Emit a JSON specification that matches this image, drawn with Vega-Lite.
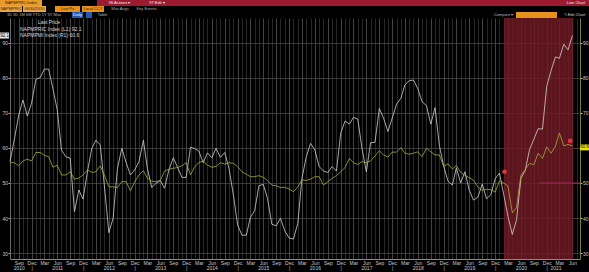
{
  "$schema": "https://vega.github.io/schema/vega-lite/v6.json",
  "background": "#000000",
  "padding": {"left": 0, "top": 0, "right": 0, "bottom": 1},
  "spacing": 0,
  "bounds": "full",
  "config": {
    "view": {"stroke": null},
    "font": "Liberation Sans",
    "axis": {"labelFont": "Liberation Sans", "titleFont": "Liberation Sans"},
    "legend": {"labelFont": "Liberation Sans", "titleFont": "Liberation Sans"},
    "text": {"font": "Liberation Sans", "fontSize": 4, "align": "center", "baseline": "middle"}
  },
  "datasets": {
    "one": [{}],
    "ism": [
      {"d": "2010-07-01", "p": 56.1, "m": 55.8}, {"d": "2010-08-01", "p": 62.5, "m": 55.8}, {"d": "2010-09-01", "p": 69.4, "m": 54.9}, {"d": "2010-10-01", "p": 73.7, "m": 56.3}, {"d": "2010-11-01", "p": 69.1, "m": 56.8}, {"d": "2010-12-01", "p": 72.8, "m": 56.3},
      {"d": "2011-01-01", "p": 79.6, "m": 58.7}, {"d": "2011-02-01", "p": 80.1, "m": 58.7}, {"d": "2011-03-01", "p": 82.5, "m": 57.9}, {"d": "2011-04-01", "p": 82.5, "m": 57.5}, {"d": "2011-05-01", "p": 77.0, "m": 54.5}, {"d": "2011-06-01", "p": 70.9, "m": 55.1}, {"d": "2011-07-01", "p": 59.4, "m": 52.3}, {"d": "2011-08-01", "p": 57.5, "m": 52.3}, {"d": "2011-09-01", "p": 57.1, "m": 53.2}, {"d": "2011-10-01", "p": 41.8, "m": 51.1}, {"d": "2011-11-01", "p": 48.0, "m": 51.4}, {"d": "2011-12-01", "p": 45.4, "m": 52.3},
      {"d": "2012-01-01", "p": 53.2, "m": 53.7}, {"d": "2012-02-01", "p": 59.9, "m": 53.0}, {"d": "2012-03-01", "p": 62.2, "m": 53.2}, {"d": "2012-04-01", "p": 60.9, "m": 54.9}, {"d": "2012-05-01", "p": 48.9, "m": 52.2}, {"d": "2012-06-01", "p": 35.8, "m": 48.9}, {"d": "2012-07-01", "p": 39.9, "m": 48.9}, {"d": "2012-08-01", "p": 54.2, "m": 48.7}, {"d": "2012-09-01", "p": 59.9, "m": 50.4}, {"d": "2012-10-01", "p": 55.9, "m": 50.4}, {"d": "2012-11-01", "p": 52.3, "m": 47.8}, {"d": "2012-12-01", "p": 53.7, "m": 50.3},
      {"d": "2013-01-01", "p": 56.1, "m": 52.3}, {"d": "2013-02-01", "p": 62.2, "m": 53.5}, {"d": "2013-03-01", "p": 54.2, "m": 51.4}, {"d": "2013-04-01", "p": 48.7, "m": 50.5}, {"d": "2013-05-01", "p": 49.9, "m": 50.4}, {"d": "2013-06-01", "p": 50.7, "m": 50.7}, {"d": "2013-07-01", "p": 48.5, "m": 53.4}, {"d": "2013-08-01", "p": 53.8, "m": 53.9}, {"d": "2013-09-01", "p": 57.2, "m": 54.2}, {"d": "2013-10-01", "p": 54.5, "m": 54.4}, {"d": "2013-11-01", "p": 51.6, "m": 54.9}, {"d": "2013-12-01", "p": 51.6, "m": 55.8},
      {"d": "2014-01-01", "p": 60.2, "m": 52.3}, {"d": "2014-02-01", "p": 59.8, "m": 54.7}, {"d": "2014-03-01", "p": 59.1, "m": 55.8}, {"d": "2014-04-01", "p": 55.8, "m": 56.3}, {"d": "2014-05-01", "p": 58.6, "m": 55.1}, {"d": "2014-06-01", "p": 57.2, "m": 54.5}, {"d": "2014-07-01", "p": 59.9, "m": 54.7}, {"d": "2014-08-01", "p": 57.3, "m": 55.8}, {"d": "2014-09-01", "p": 58.7, "m": 55.4}, {"d": "2014-10-01", "p": 54.1, "m": 55.8}, {"d": "2014-11-01", "p": 46.6, "m": 55.6}, {"d": "2014-12-01", "p": 38.0, "m": 54.7},
      {"d": "2015-01-01", "p": 35.1, "m": 53.2}, {"d": "2015-02-01", "p": 35.1, "m": 52.5}, {"d": "2015-03-01", "p": 40.1, "m": 51.8}, {"d": "2015-04-01", "p": 42.1, "m": 51.8}, {"d": "2015-05-01", "p": 49.2, "m": 52.1}, {"d": "2015-06-01", "p": 49.6, "m": 51.6}, {"d": "2015-07-01", "p": 45.6, "m": 50.7}, {"d": "2015-08-01", "p": 38.2, "m": 49.4}, {"d": "2015-09-01", "p": 37.8, "m": 49.2}, {"d": "2015-10-01", "p": 39.9, "m": 48.7}, {"d": "2015-11-01", "p": 36.3, "m": 48.8}, {"d": "2015-12-01", "p": 34.3, "m": 48.3},
      {"d": "2016-01-01", "p": 34.0, "m": 47.5}, {"d": "2016-02-01", "p": 38.5, "m": 48.9}, {"d": "2016-03-01", "p": 51.3, "m": 50.9}, {"d": "2016-04-01", "p": 57.5, "m": 50.7}, {"d": "2016-05-01", "p": 61.3, "m": 51.1}, {"d": "2016-06-01", "p": 59.4, "m": 51.8}, {"d": "2016-07-01", "p": 54.7, "m": 51.8}, {"d": "2016-08-01", "p": 53.4, "m": 49.4}, {"d": "2016-09-01", "p": 53.0, "m": 50.4}, {"d": "2016-10-01", "p": 54.7, "m": 51.3}, {"d": "2016-11-01", "p": 53.4, "m": 52.1}, {"d": "2016-12-01", "p": 64.2, "m": 53.2},
      {"d": "2017-01-01", "p": 67.7, "m": 54.4}, {"d": "2017-02-01", "p": 66.8, "m": 57.0}, {"d": "2017-03-01", "p": 68.7, "m": 55.8}, {"d": "2017-04-01", "p": 68.3, "m": 55.3}, {"d": "2017-05-01", "p": 59.9, "m": 56.1}, {"d": "2017-06-01", "p": 53.2, "m": 55.8}, {"d": "2017-07-01", "p": 61.5, "m": 56.3}, {"d": "2017-08-01", "p": 61.6, "m": 57.7}, {"d": "2017-09-01", "p": 71.3, "m": 59.2}, {"d": "2017-10-01", "p": 68.5, "m": 58.0}, {"d": "2017-11-01", "p": 64.7, "m": 57.4}, {"d": "2017-12-01", "p": 68.5, "m": 58.8},
      {"d": "2018-01-01", "p": 72.5, "m": 58.8}, {"d": "2018-02-01", "p": 74.2, "m": 60.1}, {"d": "2018-03-01", "p": 78.0, "m": 58.5}, {"d": "2018-04-01", "p": 79.2, "m": 58.2}, {"d": "2018-05-01", "p": 79.4, "m": 58.5}, {"d": "2018-06-01", "p": 76.9, "m": 58.9}, {"d": "2018-07-01", "p": 73.2, "m": 57.5}, {"d": "2018-08-01", "p": 72.1, "m": 59.9}, {"d": "2018-09-01", "p": 66.8, "m": 58.9}, {"d": "2018-10-01", "p": 71.5, "m": 58.0}, {"d": "2018-11-01", "p": 60.7, "m": 58.0}, {"d": "2018-12-01", "p": 54.9, "m": 54.7},
      {"d": "2019-01-01", "p": 50.5, "m": 55.5}, {"d": "2019-02-01", "p": 49.4, "m": 54.0}, {"d": "2019-03-01", "p": 54.3, "m": 55.0}, {"d": "2019-04-01", "p": 50.0, "m": 53.0}, {"d": "2019-05-01", "p": 53.2, "m": 52.2}, {"d": "2019-06-01", "p": 47.9, "m": 51.5}, {"d": "2019-07-01", "p": 45.1, "m": 50.8}, {"d": "2019-08-01", "p": 46.0, "m": 48.8}, {"d": "2019-09-01", "p": 49.7, "m": 47.9}, {"d": "2019-10-01", "p": 45.5, "m": 48.2}, {"d": "2019-11-01", "p": 46.7, "m": 48.1}, {"d": "2019-12-01", "p": 51.2, "m": 47.4},
      {"d": "2020-01-01", "p": 52.8, "m": 50.6}, {"d": "2020-02-01", "p": 46.5, "m": 50.0}, {"d": "2020-03-01", "p": 40.5, "m": 49.1}, {"d": "2020-04-01", "p": 35.3, "m": 41.5}, {"d": "2020-05-01", "p": 39.5, "m": 43.0}, {"d": "2020-06-01", "p": 51.3, "m": 52.2}, {"d": "2020-07-01", "p": 53.5, "m": 53.8}, {"d": "2020-08-01", "p": 59.5, "m": 55.6}, {"d": "2020-09-01", "p": 62.5, "m": 55.2}, {"d": "2020-10-01", "p": 65.5, "m": 58.5}, {"d": "2020-11-01", "p": 65.4, "m": 57.0}, {"d": "2020-12-01", "p": 77.6, "m": 60.3},
      {"d": "2021-01-01", "p": 82.1, "m": 58.5}, {"d": "2021-02-01", "p": 86.0, "m": 60.5}, {"d": "2021-03-01", "p": 85.6, "m": 64.3}, {"d": "2021-04-01", "p": 89.6, "m": 60.6}, {"d": "2021-05-01", "p": 88.0, "m": 61.0}, {"d": "2021-06-01", "p": 92.1, "m": 60.6}
    ],
    "shade": [{"start": "2020-02-01", "end": "2021-06-08"}],
    "limit": [{"start": "2020-10-10", "end": "2021-07-25", "level": 50}],
    "events": [{"date": "2020-02-06", "value": 53.2}, {"date": "2021-05-16", "value": 62.0}],
    "tagL": [{"date": "2010-07-01", "value": 92.1, "label": "92.1"}],
    "tagR": [{"date": "2021-07-25", "value": 60.6, "label": "60.6"}]
  },
  "vconcat": [
    {
      "spacing": 0, "bounds": "flush",
      "hconcat": [
        {"width": 42, "height": 6, "view": {"fill": "#e99a2a", "stroke": null}, "data": {"name": "one"}, "mark": {"type": "text", "color": "#2a1a00"}, "encoding": {"text": {"value": "NAPMPRIC Index"}}},
        {"width": 55, "height": 6, "data": {"name": "one"}, "mark": {"type": "text"}, "encoding": {"text": {"value": " "}}},
        {"width": 45, "height": 6, "view": {"fill": "#9c1b31", "stroke": null}, "data": {"name": "one"}, "mark": {"type": "text", "color": "#f0f0f0"}, "encoding": {"text": {"value": "96 Actions ▾"}}},
        {"width": 30, "height": 6, "view": {"fill": "#9c1b31", "stroke": null}, "data": {"name": "one"}, "mark": {"type": "text", "color": "#f0f0f0"}, "encoding": {"text": {"value": "97 Edit ▾"}}},
        {"width": 391, "height": 6, "view": {"fill": "#9c1b31", "stroke": null}, "data": {"name": "one"}, "mark": {"type": "text"}, "encoding": {"text": {"value": " "}}},
        {"width": 26, "height": 6, "view": {"fill": "#9c1b31", "stroke": null}, "data": {"name": "one"}, "mark": {"type": "text", "color": "#f0f0f0"}, "encoding": {"text": {"value": "Line Chart"}}}
      ]
    },
    {
      "spacing": 0, "bounds": "flush",
      "hconcat": [
        {"width": 22, "height": 6, "view": {"fill": "#e8a445", "stroke": null}, "data": {"name": "one"}, "mark": {"type": "text", "color": "#2a1a00"}, "encoding": {"text": {"value": "NAPMPRIC"}}},
        {"width": 1, "height": 6, "data": {"name": "one"}, "mark": {"type": "text"}, "encoding": {"text": {"value": " "}}},
        {"width": 23, "height": 6, "view": {"fill": "#e8a445", "stroke": null}, "data": {"name": "one"}, "mark": {"type": "text", "color": "#2a1a00"}, "encoding": {"text": {"value": "06/30/2010"}}},
        {"width": 9, "height": 6, "data": {"name": "one"}, "mark": {"type": "text"}, "encoding": {"text": {"value": " "}}},
        {"width": 25, "height": 6, "view": {"fill": "#e8901c", "stroke": null}, "data": {"name": "one"}, "mark": {"type": "text", "color": "#2a1a00"}, "encoding": {"text": {"value": "Last Px"}}},
        {"width": 2, "height": 6, "data": {"name": "one"}, "mark": {"type": "text"}, "encoding": {"text": {"value": " "}}},
        {"width": 22, "height": 6, "view": {"fill": "#e8901c", "stroke": null}, "data": {"name": "one"}, "mark": {"type": "text", "color": "#2a1a00"}, "encoding": {"text": {"value": "Local CCY"}}},
        {"width": 5, "height": 6, "data": {"name": "one"}, "mark": {"type": "text"}, "encoding": {"text": {"value": " "}}},
        {"width": 22, "height": 6, "data": {"name": "one"}, "mark": {"type": "text", "color": "#b0b0b0"}, "encoding": {"text": {"value": "Mov Avgs"}}},
        {"width": 3, "height": 6, "data": {"name": "one"}, "mark": {"type": "text"}, "encoding": {"text": {"value": " "}}},
        {"width": 25, "height": 6, "data": {"name": "one"}, "mark": {"type": "text", "color": "#b0b0b0"}, "encoding": {"text": {"value": "Key Events"}}},
        {"width": 430, "height": 6, "data": {"name": "one"}, "mark": {"type": "text"}, "encoding": {"text": {"value": " "}}}
      ]
    },
    {
      "spacing": 0, "bounds": "flush",
      "hconcat": [
        {"width": 68, "height": 6, "data": {"name": "one"}, "mark": {"type": "text", "color": "#b8b8b8"}, "encoding": {"text": {"value": "1D  3D  1M  6M  YTD  1Y  5Y  Max"}}},
        {"width": 4, "height": 6, "data": {"name": "one"}, "mark": {"type": "text"}, "encoding": {"text": {"value": " "}}},
        {"width": 11, "height": 6, "view": {"fill": "#1f5bb0", "stroke": null}, "data": {"name": "one"}, "mark": {"type": "text", "color": "#ffffff"}, "encoding": {"text": {"value": "Daily"}}},
        {"width": 3, "height": 6, "data": {"name": "one"}, "mark": {"type": "text"}, "encoding": {"text": {"value": " "}}},
        {"width": 6, "height": 6, "view": {"fill": "#1f5bb0", "stroke": null}, "data": {"name": "one"}, "mark": {"type": "text"}, "encoding": {"text": {"value": " "}}},
        {"width": 4, "height": 6, "data": {"name": "one"}, "mark": {"type": "text"}, "encoding": {"text": {"value": " "}}},
        {"width": 13, "height": 6, "data": {"name": "one"}, "mark": {"type": "text", "color": "#b8b8b8"}, "encoding": {"text": {"value": "Table"}}},
        {"width": 384, "height": 6, "data": {"name": "one"}, "mark": {"type": "text"}, "encoding": {"text": {"value": " "}}},
        {"width": 21, "height": 6, "data": {"name": "one"}, "mark": {"type": "text", "color": "#b8b8b8"}, "encoding": {"text": {"value": "Compare ▾"}}},
        {"width": 2, "height": 6, "data": {"name": "one"}, "mark": {"type": "text"}, "encoding": {"text": {"value": " "}}},
        {"width": 41, "height": 6, "view": {"fill": "#e8901c", "stroke": null}, "data": {"name": "one"}, "mark": {"type": "text"}, "encoding": {"text": {"value": " "}}},
        {"width": 3, "height": 6, "data": {"name": "one"}, "mark": {"type": "text"}, "encoding": {"text": {"value": " "}}},
        {"width": 29, "height": 6, "data": {"name": "one"}, "mark": {"type": "text", "color": "#d0d0d0"}, "encoding": {"text": {"value": "✎ Edit Chart"}}}
      ]
    },
    {
      "spacing": 0, "bounds": "flush",
      "hconcat": [
        {"width": 10, "height": 241, "data": {"name": "one"}, "mark": {"type": "text"}, "encoding": {"text": {"value": " "}}},
        {
          "width": 570,
          "height": 241,
          "resolve": {"scale": {"y": "shared", "x": "shared"}, "axis": {"y": "independent"}},
          "layer": [
            {
              "data": {"name": "shade"},
              "mark": {"type": "rect", "color": "#701a22", "opacity": 0.82},
              "encoding": {
                "x": {
                  "field": "start", "type": "temporal",
                  "scale": {"type": "utc", "domain": [{"year": 2010, "month": 7, "date": 1, "utc": true}, {"year": 2021, "month": 7, "date": 25, "utc": true}], "nice": false},
                  "axis": {
                    "title": null,
                    "orient": "bottom",
                    "tickCount": {"interval": "month", "step": 1},
                    "grid": true,
                    "gridColor": {"condition": {"test": "indexof([2,5,8,11], utcmonth(datum.value)) >= 0", "value": "#444444"}, "value": "#282828"},
                    "gridWidth": 1,
                    "ticks": false,
                    "domain": true,
                    "domainColor": "#8a8a8a",
                    "labelExpr": "utcyear(datum.value)==2010 && utcmonth(datum.value)==8 ? ['Sep','2010'] : (utcyear(datum.value)==2021 && utcmonth(datum.value)==1) ? ['','2021'] : (utcmonth(datum.value)==5 && utcyear(datum.value)<2021) ? ['Jun', '' + utcyear(datum.value)] : utcmonth(datum.value)==5 ? ['Jun',''] : utcmonth(datum.value)==11 ? ['Dec','|'] : utcmonth(datum.value)==8 ? ['Sep',''] : utcmonth(datum.value)==2 ? ['Mar',''] : ''",
                    "labelColor": "#c8c8c8",
                    "labelFontSize": 5,
                    "labelLineHeight": 5.5,
                    "labelPadding": 1,
                    "labelOverlap": false,
                    "labelFlush": false,
                    "labelBound": false,
                    "labelAlign": "center"
                  }
                },
                "x2": {"field": "end"}
              }
            },
            {
              "data": {"name": "ism"},
              "transform": [{"fold": ["p", "m"], "as": ["series", "value"]}],
              "mark": {"type": "line", "strokeWidth": 0.9, "strokeOpacity": 0.88, "interpolate": "linear"},
              "encoding": {
                "x": {"field": "d", "type": "temporal", "scale": {"type": "utc", "domain": [{"year": 2010, "month": 7, "date": 1, "utc": true}, {"year": 2021, "month": 7, "date": 25, "utc": true}], "nice": false}},
                "y": {
                  "field": "value", "type": "quantitative",
                  "scale": {"domain": [28.3, 97.1], "nice": false, "zero": false},
                  "axis": {
                    "title": null, "orient": "left",
                    "values": [30, 40, 50, 60, 70, 80, 90],
                    "grid": true, "gridColor": "#484848", "gridWidth": 0.8,
                    "domain": true, "domainColor": "#6a6a6a",
                    "ticks": true, "tickSize": 2, "tickColor": "#bdbdbd",
                    "labelColor": "#c8c8c8", "labelFontSize": 5, "labelPadding": 0.5
                  }
                },
                "color": {
                  "field": "series", "type": "nominal",
                  "scale": {"domain": ["p", "m"], "range": ["#d2d2d2", "#abab40"]},
                  "legend": {
                    "orient": "none", "legendX": 12, "legendY": 19,
                    "title": "Last Price", "titleColor": "#d8d8d8", "titleFontSize": 5, "titleFontWeight": "normal", "titleAnchor": "middle", "titlePadding": 1,
                    "labelExpr": "datum.label == 'p' ? 'NAPMPRIC Index  (L1)  92.1' : 'NAPMPMI Index  (R1)  60.6'",
                    "labelColor": "#d8d8d8", "labelFontSize": 5, "labelOffset": 2,
                    "symbolType": "square", "symbolSize": 14, "symbolStrokeWidth": 0, "symbolOpacity": 1,
                    "rowPadding": 0.5, "padding": 1
                  }
                }
              }
            },
            {
              "data": {"name": "limit"},
              "mark": {"type": "rule", "color": "#a8295f", "strokeWidth": 1.2},
              "encoding": {
                "x": {"field": "start", "type": "temporal", "scale": {"type": "utc", "domain": [{"year": 2010, "month": 7, "date": 1, "utc": true}, {"year": 2021, "month": 7, "date": 25, "utc": true}], "nice": false}},
                "x2": {"field": "end"},
                "y": {
                  "field": "level", "type": "quantitative",
                  "scale": {"domain": [28.3, 97.1], "nice": false, "zero": false},
                  "axis": {
                    "title": null, "orient": "right",
                    "values": [30, 40, 50, 70, 80, 90],
                    "grid": false,
                    "domain": true, "domainColor": "#7d7d35",
                    "ticks": true, "tickSize": 2, "tickColor": "#d0d040",
                    "labelColor": "#c8c8c8", "labelFontSize": 5, "labelPadding": 0.5
                  }
                }
              }
            },
            {
              "data": {"name": "events"},
              "mark": {"type": "point", "filled": true, "shape": "circle", "color": "#e3323c", "size": 22, "opacity": 1},
              "encoding": {
                "x": {"field": "date", "type": "temporal", "scale": {"type": "utc", "domain": [{"year": 2010, "month": 7, "date": 1, "utc": true}, {"year": 2021, "month": 7, "date": 25, "utc": true}], "nice": false}},
                "y": {"field": "value", "type": "quantitative", "scale": {"domain": [28.3, 97.1], "nice": false, "zero": false}, "axis": null}
              }
            },
            {
              "data": {"name": "tagL"},
              "layer": [
                {"mark": {"type": "point", "filled": true, "shape": "M-1.8,-1.2H1.8V1.2H-1.8Z", "size": 25, "color": "#e6e6e6", "opacity": 1, "xOffset": -5.5}},
                {"mark": {"type": "text", "fontSize": 4.5, "color": "#000000", "xOffset": -5.5}, "encoding": {"text": {"field": "label"}}}
              ],
              "encoding": {
                "x": {"field": "date", "type": "temporal", "scale": {"type": "utc", "domain": [{"year": 2010, "month": 7, "date": 1, "utc": true}, {"year": 2021, "month": 7, "date": 25, "utc": true}], "nice": false}},
                "y": {"field": "value", "type": "quantitative", "scale": {"domain": [28.3, 97.1], "nice": false, "zero": false}, "axis": null}
              }
            },
            {
              "data": {"name": "tagR"},
              "layer": [
                {"mark": {"type": "point", "filled": true, "shape": "M-1.8,-1.2H1.8V1.2H-1.8Z", "size": 25, "color": "#e6e600", "opacity": 1, "xOffset": 4.5, "yOffset": 1.5}},
                {"mark": {"type": "text", "fontSize": 4.5, "color": "#000000", "xOffset": 4.5, "yOffset": 1.5}, "encoding": {"text": {"field": "label"}}}
              ],
              "encoding": {
                "x": {"field": "date", "type": "temporal", "scale": {"type": "utc", "domain": [{"year": 2010, "month": 7, "date": 1, "utc": true}, {"year": 2021, "month": 7, "date": 25, "utc": true}], "nice": false}},
                "y": {"field": "value", "type": "quantitative", "scale": {"domain": [28.3, 97.1], "nice": false, "zero": false}, "axis": null}
              }
            }
          ]
        }
      ]
    }
  ]
}
